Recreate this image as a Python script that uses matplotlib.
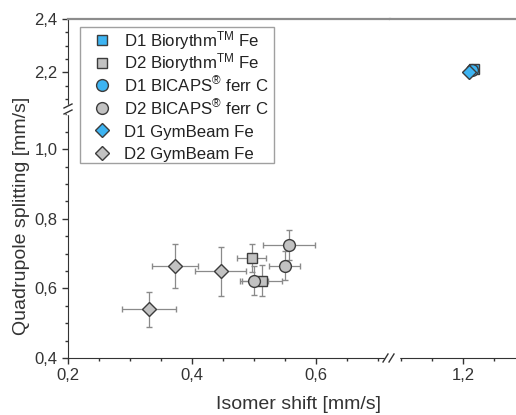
import matplotlib
matplotlib.use("Agg")
import matplotlib.pyplot as plt
from matplotlib.lines import Line2D
from matplotlib.patches import Rectangle
from matplotlib.ticker import MultipleLocator, FuncFormatter

plt.rcParams['font.family'] = ['Liberation Sans', 'DejaVu Sans']
plt.rcParams['mathtext.fontset'] = 'custom'
plt.rcParams['mathtext.rm'] = 'Liberation Sans'
plt.rcParams['mathtext.it'] = 'Liberation Sans:italic'

# --- data (isomer shift / quadrupole splitting, mm/s) ---
labels = ['D1 Biorythm$^{\\mathrm{TM}}$ Fe', 'D2 Biorythm$^{\\mathrm{TM}}$ Fe',
          'D1 BICAPS$^{\\circledR}$ ferr C', 'D2 BICAPS$^{\\circledR}$ ferr C',
          'D1 GymBeam Fe', 'D2 GymBeam Fe']

d1_bio_x = [1.218]
d1_bio_y = [2.214]
d1_bio_xerr = [0.004]
d1_bio_yerr = [0.005]

d2_bio_x = [0.496, 0.513]
d2_bio_y = [0.688, 0.622]
d2_bio_xerr = [0.023, 0.032]
d2_bio_yerr = [0.041, 0.045]

d1_bic_x = [1.214]
d1_bic_y = [2.208]
d1_bic_xerr = [0.004]
d1_bic_yerr = [0.005]

d2_bic_x = [0.500, 0.550, 0.557]
d2_bic_y = [0.622, 0.665, 0.725]
d2_bic_xerr = [0.023, 0.025, 0.042]
d2_bic_yerr = [0.042, 0.042, 0.043]

d1_gym_x = [1.209]
d1_gym_y = [2.203]
d1_gym_xerr = [0.004]
d1_gym_yerr = [0.005]

d2_gym_x = [0.331, 0.373, 0.446]
d2_gym_y = [0.540, 0.665, 0.649]
d2_gym_xerr = [0.044, 0.037, 0.041]
d2_gym_yerr = [0.050, 0.063, 0.070]

blue = '#3db4f2'
grey = '#c2c2c2'
edge = '#3c3c3c'
errc = '#8a8a8a'

series = [
    (d1_bio_x, d1_bio_y, d1_bio_xerr, d1_bio_yerr, 's', 7.5, blue),
    (d2_bio_x, d2_bio_y, d2_bio_xerr, d2_bio_yerr, 's', 7.5, grey),
    (d1_bic_x, d1_bic_y, d1_bic_xerr, d1_bic_yerr, 'o', 8.5, blue),
    (d2_bic_x, d2_bic_y, d2_bic_xerr, d2_bic_yerr, 'o', 8.5, grey),
    (d1_gym_x, d1_gym_y, d1_gym_xerr, d1_gym_yerr, 'D', 7.5, blue),
    (d2_gym_x, d2_gym_y, d2_gym_xerr, d2_gym_yerr, 'D', 7.5, grey),
]

W, H = 516, 415
fig = plt.figure(figsize=(5.16, 4.15), dpi=100)
gs = fig.add_gridspec(2, 2, width_ratios=[322, 126], height_ratios=[91, 248],
                      left=68 / W, right=1.0, top=1 - 19 / H, bottom=1 - 358 / H,
                      wspace=0, hspace=0)
ax_tl = fig.add_subplot(gs[0, 0])
ax_tr = fig.add_subplot(gs[0, 1])
ax_bl = fig.add_subplot(gs[1, 0])
ax_br = fig.add_subplot(gs[1, 1])

xlims = [(0.2, 0.2 + 322 / 620), (1.2 - 73 / 620, 1.2 + 53 / 620)]
ylims = [(2.4 - 91 / 267, 2.4), (0.4, 0.4 + 248 / 348)]

comma = FuncFormatter(lambda v, p: f"{v:.1f}".replace('.', ','))

for r, row in enumerate([[ax_tl, ax_tr], [ax_bl, ax_br]]):
    for c, ax in enumerate(row):
        for x, y, xe, ye, m, ms, col in series:
            ax.errorbar(x, y, xerr=xe, yerr=ye, fmt=m, ms=ms, mfc=col, mec=edge, mew=1.0,
                        ecolor=errc, elinewidth=0.9, capsize=2.5, capthick=0.9)
        ax.set_xlim(*xlims[c])
        ax.set_ylim(*ylims[r])
        for s in ax.spines.values():
            s.set_visible(False)
        ax.tick_params(which='both', direction='out', labelsize=12, colors='#333333',
                       labelcolor='#333333')
        ax.tick_params(which='major', length=4, width=1)
        ax.tick_params(which='minor', length=2.5, width=1)
        ax.xaxis.set_major_locator(MultipleLocator(0.2))
        ax.xaxis.set_minor_locator(MultipleLocator(0.05))
        ax.yaxis.set_major_locator(MultipleLocator(0.2))
        ax.yaxis.set_minor_locator(MultipleLocator(0.05))
        ax.xaxis.set_major_formatter(comma)
        ax.yaxis.set_major_formatter(comma)
        if c == 0:
            ax.spines['left'].set_visible(True)
            ax.spines['left'].set_color('#333333')
        else:
            ax.tick_params(axis='y', which='both', left=False, labelleft=False)
        if r == 1:
            ax.spines['bottom'].set_visible(True)
            ax.spines['bottom'].set_color('#333333')
        else:
            ax.tick_params(axis='x', which='both', bottom=False, labelbottom=False)
            ax.spines['top'].set_visible(True)
            ax.spines['top'].set_color('#8c8c8c')
            ax.spines['top'].set_linewidth(1.6)


def px_line(x0, y0, x1, y1, color='#333333', lw=1.0):
    fig.add_artist(Line2D([x0 / W, x1 / W], [1 - y0 / H, 1 - y1 / H], color=color, lw=lw,
                          transform=fig.transFigure, zorder=10))

# break marks: y axis at (68, 110), x axis at (391, 358)
px_line(68, 106, 68, 113, color='white', lw=2.5)
px_line(64, 108, 72, 104)
px_line(64, 114, 72, 110)
px_line(386, 358, 398, 358, color='white', lw=2.5)
px_line(383, 362, 388, 354)
px_line(389, 362, 394, 354)

# legend box (rows with superscripts kept on an even pitch)
fig.add_artist(Rectangle((80 / W, 1 - 163 / H), 194 / W, 136 / H, transform=fig.transFigure,
                         facecolor='white', edgecolor='#a0a0a0', lw=1.0, zorder=11))
for i, ((x, y, xe, ye, m, ms, col), lab) in enumerate(zip(series, labels)):
    yc = 40 + 22.6 * i
    fig.add_artist(Line2D([102 / W], [1 - yc / H], ls='none', marker=m, ms=ms, mfc=col,
                          mec=edge, mew=1.0, transform=fig.transFigure, zorder=12))
    fig.text(124 / W, 1 - (yc + 6.2) / H, lab, ha='left', va='baseline', fontsize=12.1,
             color='#222222', zorder=12)

fig.text(299 / W, 1 - 404 / H, 'Isomer shift [mm/s]', ha='center', va='center',
         fontsize=14, color='#333333')
fig.text(22 / W, 1 - 216 / H, 'Quadrupole splitting [mm/s]', ha='center', va='center',
         rotation=90, fontsize=14, color='#333333')

fig.savefig('out.png', dpi=100)
